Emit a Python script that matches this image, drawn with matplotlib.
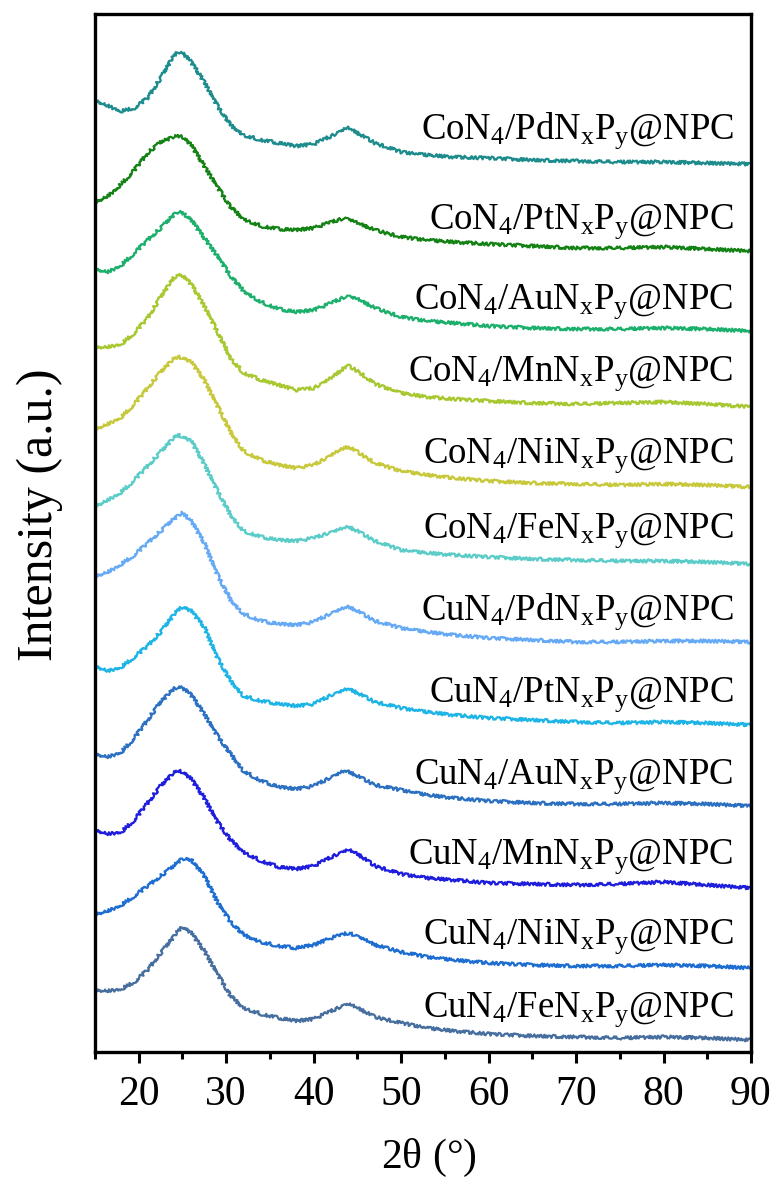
import numpy as np
import matplotlib
matplotlib.use("Agg")
import matplotlib.pyplot as plt

plt.rcParams['font.family'] = ['Liberation Serif', 'DejaVu Serif']
plt.rcParams['mathtext.fontset'] = 'custom'
plt.rcParams['mathtext.rm'] = 'Liberation Serif'
plt.rcParams['mathtext.it'] = 'Liberation Serif:italic'
plt.rcParams['mathtext.bf'] = 'Liberation Serif:bold'

# 2theta sample positions (degrees)
two_theta = [15, 16.5, 18, 19.5, 21, 22.5, 24, 24.5, 25, 26, 27.5, 29, 30.5, 32, 34, 36,
             38, 40, 42, 43.5, 44, 45, 47, 50, 53, 56, 60, 65, 70, 75, 80, 85, 90]

# stacked intensities (a.u.), top curve first
co_pd = [952, 946, 941, 944, 954, 974, 996, 1000, 999, 990, 970, 946, 927, 917, 912, 909,
         906, 908, 916, 923, 924, 919, 909, 900, 897, 895, 894, 892, 891, 890, 890, 889, 888]
co_pt = [850, 856, 868, 882, 899, 910, 915, 916, 915, 907, 886, 865, 845, 833, 826, 823,
         822, 824, 830, 834, 833, 829, 822, 815, 812, 810, 808, 806, 804, 804, 805, 803, 801]
co_au = [783, 780, 787, 799, 812, 824, 837, 840, 839, 832, 814, 796, 776, 761, 750, 743,
         740, 742, 749, 755, 756, 753, 744, 735, 731, 729, 726, 724, 723, 723, 724, 723, 721]
co_mn = [705, 705, 708, 719, 734, 755, 774, 777, 776, 768, 746, 720, 694, 679, 672, 667,
         662, 664, 674, 684, 686, 681, 668, 659, 655, 653, 651, 649, 648, 649, 650, 648, 645]
co_ni = [623, 628, 635, 648, 664, 680, 693, 695, 694, 690, 672, 646, 620, 601, 592, 587,
         584, 587, 597, 604, 605, 600, 589, 581, 577, 574, 571, 569, 568, 567, 568, 567, 565]
co_fe = [546, 552, 560, 572, 586, 600, 614, 617, 615, 611, 588, 561, 537, 521, 515, 512,
         511, 514, 520, 524, 525, 521, 511, 502, 499, 497, 495, 493, 492, 491, 491, 490, 488]
cu_pd = [476, 480, 488, 497, 509, 521, 533, 536, 539, 531, 509, 477, 452, 438, 431, 428,
         427, 430, 439, 444, 445, 441, 431, 424, 420, 417, 414, 412, 410, 410, 411, 411, 410]
cu_pt = [386, 381, 385, 395, 406, 420, 437, 442, 445, 441, 425, 394, 371, 356, 351, 348,
         346, 348, 357, 362, 363, 359, 350, 344, 340, 337, 334, 332, 330, 329, 330, 329, 327]
cu_au = [298, 295, 300, 314, 332, 350, 363, 365, 364, 357, 338, 316, 298, 281, 271, 265,
         263, 266, 275, 281, 280, 276, 267, 262, 257, 254, 251, 249, 248, 248, 249, 248, 246]
cu_mn = [222, 218, 220, 232, 249, 266, 279, 281, 280, 273, 254, 230, 212, 200, 191, 185,
         183, 186, 195, 201, 202, 198, 186, 178, 174, 172, 169, 168, 167, 168, 170, 167, 164]
cu_ni = [138, 141, 147, 156, 166, 176, 186, 190, 193, 192, 176, 150, 130, 117, 110, 106,
         104, 107, 114, 118, 119, 116, 107, 100, 95, 92, 89, 87, 86, 86, 87, 86, 84]
cu_fe = [62, 61, 63, 70, 82, 99, 115, 121, 125, 119, 101, 78, 56, 44, 38, 34,
         31, 33, 41, 47, 48, 44, 35, 29, 24, 21, 18, 16, 15, 14, 15, 14, 12]

series = [co_pd, co_pt, co_au, co_mn, co_ni, co_fe,
          cu_pd, cu_pt, cu_au, cu_mn, cu_ni, cu_fe]

labels = [r'CoN$_{\mathrm{4}}$/PdN$_{\mathrm{x}}$P$_{\mathrm{y}}$@NPC',
          r'CoN$_{\mathrm{4}}$/PtN$_{\mathrm{x}}$P$_{\mathrm{y}}$@NPC',
          r'CoN$_{\mathrm{4}}$/AuN$_{\mathrm{x}}$P$_{\mathrm{y}}$@NPC',
          r'CoN$_{\mathrm{4}}$/MnN$_{\mathrm{x}}$P$_{\mathrm{y}}$@NPC',
          r'CoN$_{\mathrm{4}}$/NiN$_{\mathrm{x}}$P$_{\mathrm{y}}$@NPC',
          r'CoN$_{\mathrm{4}}$/FeN$_{\mathrm{x}}$P$_{\mathrm{y}}$@NPC',
          r'CuN$_{\mathrm{4}}$/PdN$_{\mathrm{x}}$P$_{\mathrm{y}}$@NPC',
          r'CuN$_{\mathrm{4}}$/PtN$_{\mathrm{x}}$P$_{\mathrm{y}}$@NPC',
          r'CuN$_{\mathrm{4}}$/AuN$_{\mathrm{x}}$P$_{\mathrm{y}}$@NPC',
          r'CuN$_{\mathrm{4}}$/MnN$_{\mathrm{x}}$P$_{\mathrm{y}}$@NPC',
          r'CuN$_{\mathrm{4}}$/NiN$_{\mathrm{x}}$P$_{\mathrm{y}}$@NPC',
          r'CuN$_{\mathrm{4}}$/FeN$_{\mathrm{x}}$P$_{\mathrm{y}}$@NPC']

label_y = [913, 823, 743, 671, 589, 514, 432, 350, 268, 188, 108, 35]

colors = ['#1E8C8C', '#148214', '#1CB06C', '#A8C832', '#C8C83C', '#5CCCC8',
          '#66AAF5', '#1EB4E6', '#2C70C2', '#1E1EDC', '#1E6ED2', '#466E9E']

x_ticks = [20, 30, 40, 50, 60, 70, 80, 90]
x_minor = [15, 25, 35, 45, 55, 65, 75, 85]

fig = plt.figure(figsize=(7.77, 11.80), dpi=100)
ax = fig.add_axes([0.1223, 0.1085, 0.8442, 0.8796])

for ys, c in zip(series, colors):
    ln, = ax.plot(two_theta, ys, color=c, lw=1.6, solid_joinstyle='round')
    ln.set_sketch_params(scale=1.6, length=1.6, randomness=4)

for lab, ly in zip(labels, label_y):
    ax.text(88.0, ly, lab, ha='right', va='baseline', fontsize=26.5, color='black')

ax.set_xlim(15, 90)
ax.set_ylim(0, 1038)
ax.set_xticks(x_ticks)
ax.set_xticks(x_minor, minor=True)
ax.set_yticks([])
ax.tick_params(axis='x', which='major', direction='out', length=8, width=2.2,
               labelsize=30, pad=9)
ax.tick_params(axis='x', which='minor', direction='out', length=5, width=2.2)
for s in ax.spines.values():
    s.set_linewidth(2.4)

fig.text(0.5525, 1 - 1158 / 1180, r'2$\mathrm{\theta}$ (°)', ha='center', va='center', fontsize=30)
fig.text(40 / 777, 1 - 515 / 1180, 'Intensity (a.u.)', rotation=90, ha='center', va='center',
         fontsize=36)

fig.savefig('out.png', dpi=100)
